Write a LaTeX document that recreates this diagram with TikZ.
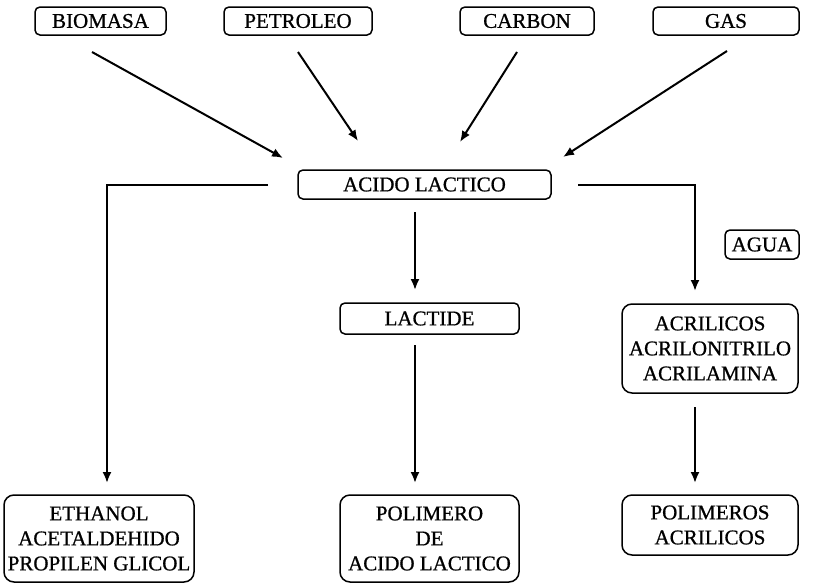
\documentclass[tikz,border=0pt]{standalone}
\usepackage{fontspec}
\setmainfont[FakeBold=0.8]{Liberation Serif}
\usetikzlibrary{arrows.meta}
\begin{document}
\begin{tikzpicture}[x=1pt,y=-1pt,
  lbl/.style={font=\fontsize{21}{25}\selectfont, align=center, inner sep=0pt},
  smallbox/.style={lbl, draw, line width=1.5pt, rounded corners=5pt},
  bigbox/.style={lbl, draw, line width=1.5pt, rounded corners=10pt},
  conn/.style={line width=2pt, -{Latex[length=11pt,width=9pt]}}]
\useasboundingbox (0,0) rectangle (814,584);
% top sources
\node[smallbox, minimum width=131pt, minimum height=28pt] (bio) at (100.5,21) {BIOMASA};
\node[smallbox, minimum width=148pt, minimum height=28pt] (pet) at (298,21) {PETROLEO};
\node[smallbox, minimum width=134pt, minimum height=28pt] (car) at (527,21) {CARBON};
\node[smallbox, minimum width=146pt, minimum height=28pt] (gas) at (726,21) {GAS};
% centre
\node[smallbox, minimum width=253pt, minimum height=29pt] (acido) at (424.5,184.5) {ACIDO LACTICO};
\node[smallbox, minimum width=179pt, minimum height=31pt] (lact) at (429.5,318.5) {LACTIDE};
\node[smallbox, minimum width=74pt, minimum height=29pt] (agua) at (762,244.5) {AGUA};
\node[bigbox, minimum width=176pt, minimum height=89pt] (acril) at (710,348.5) {ACRILICOS\\ACRILONITRILO\\ACRILAMINA};
% bottom
\node[bigbox, minimum width=190pt, minimum height=87pt] (eth) at (99,538.5) {ETHANOL\\ACETALDEHIDO\\PROPILEN GLICOL};
\node[bigbox, minimum width=179pt, minimum height=87pt] (pol) at (429.5,538.5) {POLIMERO\\DE\\ACIDO LACTICO};
\node[bigbox, minimum width=176pt, minimum height=60pt] (polacr) at (710,525) {POLIMEROS\\ACRILICOS};
% connector end points
\coordinate (bioS) at (92,52);   \coordinate (bioE) at (283,158);
\coordinate (petS) at (298,52);  \coordinate (petE) at (358,141);
\coordinate (carS) at (517,52);  \coordinate (carE) at (460,142);
\coordinate (gasS) at (727,51);  \coordinate (gasE) at (563,157);
\coordinate (lS) at (268,185);   \coordinate (lC) at (107,185);  \coordinate (lE) at (107,483);
\coordinate (rS) at (578,185);   \coordinate (rC) at (695,185);  \coordinate (rE) at (695,291);
\coordinate (cS) at (415,212);   \coordinate (cE) at (415,290);
\coordinate (dS) at (415,345);   \coordinate (dE) at (415,483);
\coordinate (aS) at (695,407);   \coordinate (aE) at (695,483);
% connectors
\draw[conn] (bioS) -- (bioE);
\draw[conn] (petS) -- (petE);
\draw[conn] (carS) -- (carE);
\draw[conn] (gasS) -- (gasE);
\draw[conn] (lS) -- (lC) -- (lE);
\draw[conn] (rS) -- (rC) -- (rE);
\draw[conn] (cS) -- (cE);
\draw[conn] (dS) -- (dE);
\draw[conn] (aS) -- (aE);
\end{tikzpicture}
\end{document}
